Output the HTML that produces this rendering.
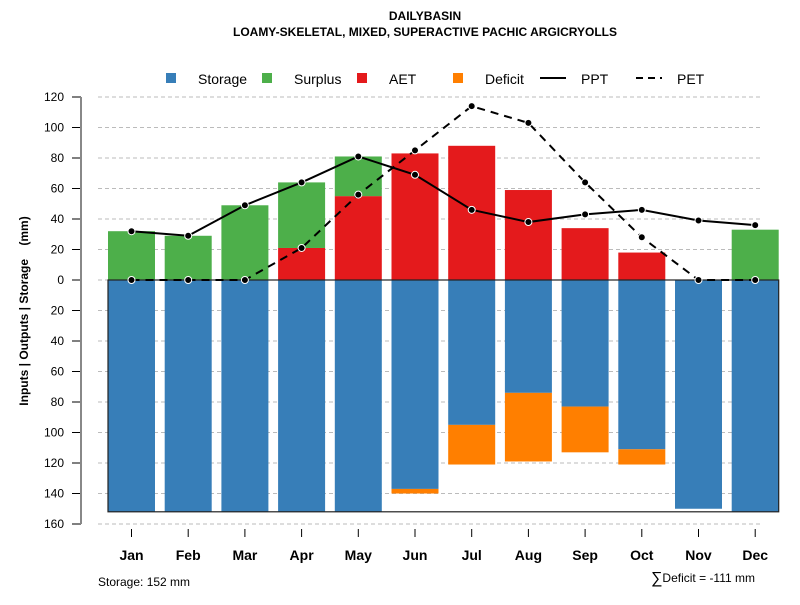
<!DOCTYPE html>
<html><head><meta charset="utf-8"><style>
body{margin:0;background:#fff}
svg{font-family:"Liberation Sans",sans-serif}
</style></head><body>
<svg id="c" width="800" height="600" xmlns="http://www.w3.org/2000/svg">
<text x="425" y="20" text-anchor="middle" font-size="12" font-weight="bold">DAILYBASIN</text>
<text x="425" y="36" text-anchor="middle" font-size="12" font-weight="bold">LOAMY-SKELETAL, MIXED, SUPERACTIVE PACHIC ARGICRYOLLS</text>
<g id="legend">
<g><rect x="166" y="73" width="10" height="10" fill="#377eb8"/><text x="198" y="84" font-size="14">Storage</text></g>
<g><rect x="262" y="73" width="10" height="10" fill="#4daf4a"/><text x="294" y="84" font-size="14">Surplus</text></g>
<g><rect x="357" y="73" width="10" height="10" fill="#e41a1c"/><text x="389" y="84" font-size="14">AET</text></g>
<g><rect x="453" y="73" width="10" height="10" fill="#ff7f00"/><text x="485" y="84" font-size="14">Deficit</text></g>
<g><line x1="540" y1="78" x2="566" y2="78" stroke="#000" stroke-width="2"/><text x="581" y="84" font-size="14">PPT</text></g>
<g><line x1="636" y1="78" x2="662" y2="78" stroke="#000" stroke-width="2" stroke-dasharray="7,5"/><text x="677" y="84" font-size="14">PET</text></g>
</g>
<g id="grid"></g><g id="bars"></g><g id="lines"></g><g id="axes"></g>
<text transform="translate(28,311) rotate(-90)" text-anchor="middle" font-size="12" font-weight="bold" style="white-space:pre" xml:space="preserve">Inputs | Outputs | Storage    (mm)</text>
<text x="98" y="586" font-size="12">Storage: 152 mm</text>
<text x="755" y="582" text-anchor="end" font-size="12"><tspan font-size="16" dy="1">∑</tspan><tspan dy="-1">Deficit = -111 mm</tspan></text>
</svg>
<script>
const months=["Jan","Feb","Mar","Apr","May","Jun","Jul","Aug","Sep","Oct","Nov","Dec"];
const storage=[152,152,152,152,152,137,95,74,83,111,150,152];
const deficit=[0,0,0,0,0,3,26,45,30,10,0,0];
const aet=[0,0,0,21,55,83,88,59,34,18,0,0];
const surplus=[32,29,49,43,26,0,0,0,0,0,0,33];
const ppt=[32,29,49,64,81,69,46,38,43,46,39,36];
const pet=[0,0,0,21,56,85,114,103,64,28,0,0];
const yTicks=[120,100,80,60,40,20,0,20,40,60,80,100,120,140,160];
const yTickVals=[120,100,80,60,40,20,0,-20,-40,-60,-80,-100,-120,-140,-160];
const maxStorage=152;
const NS="http://www.w3.org/2000/svg";
const y=v=>280-v*1.525;
const x=i=>131.5+i*56.7;
const bw=47;
function mk(p,t,a){const e=document.createElementNS(NS,t);for(const k in a)e.setAttribute(k,a[k]);p.appendChild(e);return e;}
const G=document.getElementById('grid'),B=document.getElementById('bars'),L=document.getElementById('lines'),A=document.getElementById('axes');
yTickVals.forEach((v,i)=>{
 const g=mk(G,'line',{x1:98,x2:760,y1:y(v),y2:y(v),stroke:'#bbb','stroke-dasharray':'4,3'});
 
 
 const t=mk(A,'line',{x1:72,x2:81,y1:y(v),y2:y(v),stroke:'#000'});
 
 
 const l=mk(A,'text',{x:64,y:y(v)+4,'text-anchor':'end','font-size':12});
 l.textContent=yTicks[i];
 
 
});
const ax=mk(A,'line',{x1:81,x2:81,y1:y(120),y2:y(-160),stroke:'#888','stroke-width':2});


months.forEach((m,i)=>{
 const cx=x(i),x0=cx-bw/2;
 const s=mk(B,'rect',{x:x0,y:280,width:bw,height:storage[i]*1.525,fill:'#377eb8'});
 
 
 if(deficit[i]>0){const d=mk(B,'rect',{x:x0,y:y(-storage[i]),width:bw,height:deficit[i]*1.525,fill:'#ff7f00'});
 
 }
 if(aet[i]>0){const a=mk(B,'rect',{x:x0,y:y(aet[i]),width:bw,height:aet[i]*1.525,fill:'#e41a1c'});
 
 }
 if(surplus[i]>0){const u=mk(B,'rect',{x:x0,y:y(aet[i]+surplus[i]),width:bw,height:surplus[i]*1.525,fill:'#4daf4a'});
 
 }
 const t=mk(A,'line',{x1:cx,x2:cx,y1:529,y2:537,stroke:'#000'});
 
 
 const l=mk(A,'text',{x:cx,y:560,'text-anchor':'middle','font-size':14,'font-weight':'bold'});
 l.textContent=m;
 
 
});
const box=mk(B,'rect',{x:x(0)-bw/2,y:280,width:x(11)+bw/2-(x(0)-bw/2),height:maxStorage*1.525,fill:'none',stroke:'#222','stroke-width':1.2});


function series(vals,dash,name){
 const p=mk(L,'polyline',{points:vals.map((v,i)=>x(i)+','+y(v)).join(' '),fill:'none',stroke:'#000','stroke-width':2,'stroke-dasharray':dash});
 
 
 vals.forEach((v,i)=>{const c=mk(L,'circle',{cx:x(i),cy:y(v),r:3.5,fill:'#000',stroke:'#fff','stroke-width':1});
 
 });
}
series(pet,'8,6','pet');
series(ppt,'none','ppt');
</script>
</body></html>
